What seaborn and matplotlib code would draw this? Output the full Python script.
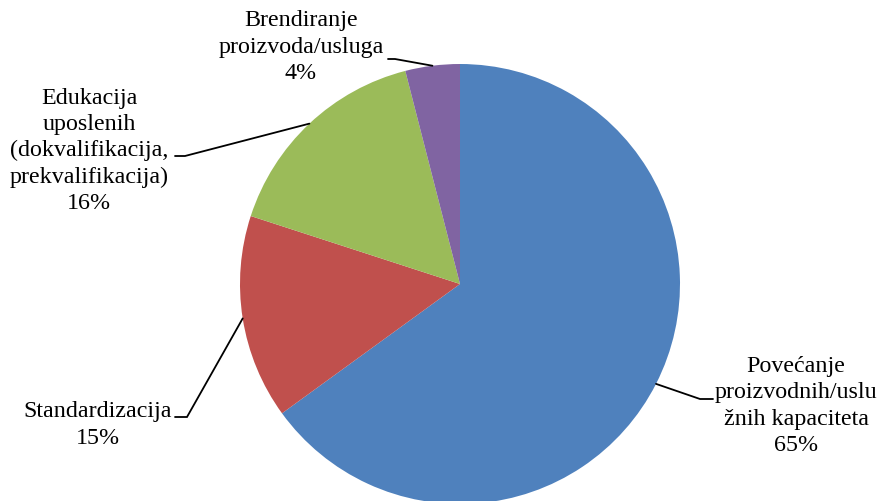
import numpy as np
import matplotlib
matplotlib.use("Agg")
import matplotlib.pyplot as plt
import seaborn as sns

# ── Data ──────────────────────────────────────────────────────────────────
categories = [
    "Povećanje\nproizvodnih/uslu\nžnih kapaciteta",
    "Standardizacija",
    "Edukacija\nuposlenih\n(dokvalifikacija,\nprekvalifikacija)",
    "Brendiranje\nproizvoda/usluga",
]
shares = [65, 15, 16, 4]
colors = ["#4F81BD", "#C0504D", "#9BBB59", "#8064A2"]

# label placement in pixels (text centre, elbow of leader line, leader end)
W, H = 882, 502
CX, CY, R = 460, 285, 220
label_pos = [(796, 406), (98, 425), (89, 151), (301, 47)]
elbow_pos = [(700, 400), (187, 418), (185, 157), (395, 60)]
end_pos = [(713, 400), (175, 418), (175, 157), (388, 60)]


def to_data(p):
    return (p[0] - CX) / R, (CY - p[1]) / R


# ── Style ─────────────────────────────────────────────────────────────────
sns.set_theme(style="white")
plt.rcParams["font.family"] = ["Liberation Serif", "DejaVu Serif"]

fig = plt.figure(figsize=(W / 100, H / 100), dpi=100)
ax = fig.add_axes([0, 0, 1, 1])

wedges, _ = ax.pie(shares, colors=colors, startangle=90, counterclock=False,
                   radius=1, wedgeprops=dict(linewidth=0))

ax.set_xlim(-CX / R, (W - CX) / R)
ax.set_ylim(-(H - CY) / R, CY / R)
ax.set_aspect("equal", adjustable="box")
ax.axis("off")

# ── Labels with leader lines ──────────────────────────────────────────────
for w, cat, val, lp, ep, tp in zip(wedges, categories, shares,
                                   label_pos, elbow_pos, end_pos):
    mid = np.deg2rad((w.theta1 + w.theta2) / 2)
    ax_, ay_ = np.cos(mid), np.sin(mid)
    ex, ey = to_data(ep)
    tx, ty = to_data(tp)
    ax.plot([ax_, ex, tx], [ay_, ey, ty], color="black", lw=1.3,
            solid_joinstyle="miter")
    lx, ly = to_data(lp)
    ax.text(lx, ly, f"{cat}\n{val}%", ha="center", va="center",
            fontsize=17.3, linespacing=1.33, color="black")

fig.savefig("out.png", dpi=100)
